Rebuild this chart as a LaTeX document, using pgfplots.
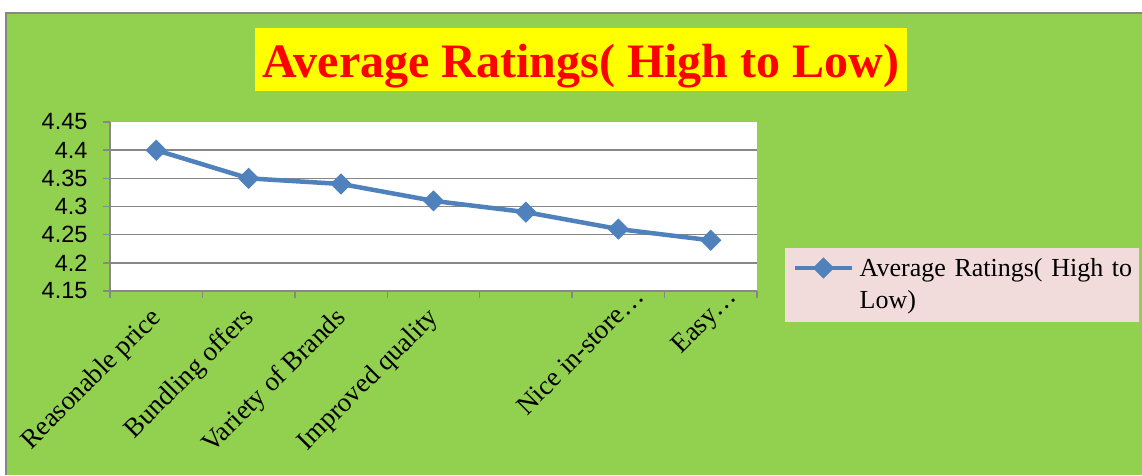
\documentclass[border=0pt]{standalone}
\usepackage{pgfplots}
\pgfplotsset{compat=1.18}
\usepackage{fontspec}
\setmainfont{Liberation Serif}
\newfontfamily\arial{Liberation Sans}
\definecolor{bggreen}{HTML}{92D050}
\definecolor{titleyellow}{HTML}{FFFF00}
\definecolor{legendpink}{HTML}{F2DCDB}
\definecolor{linblue}{HTML}{4F81BD}
\definecolor{axisgray}{HTML}{878787}
\begin{document}
\begin{tikzpicture}
\path[use as bounding box] (0,0) rectangle (1142pt,-475pt);
\fill[white] (0,0) rectangle (1142pt,-475pt);
\fill[bggreen] (6pt,-13pt) rectangle (1142pt,-475pt);
\draw[axisgray, line width=2pt] (6pt,-475pt) -- (6pt,-13pt) -- (1142pt,-13pt);
% title box
\fill[titleyellow] (255pt,-28pt) rectangle (907pt,-91pt);
\node[text=red, anchor=base, inner sep=0pt, font=\fontsize{48}{48}\selectfont\bfseries] at (581pt,-77pt) {Average Ratings( High to Low)};
% legend box
\fill[legendpink] (785pt,-248pt) rectangle (1139pt,-322pt);
\begin{axis}[
  at={(110pt,-291pt)}, anchor=south west,
  scale only axis, width=647pt, height=169pt,
  xmin=-0.5, xmax=6.5, ymin=4.15, ymax=4.45,
  axis x line*=bottom, axis y line*=left,
  axis line style={draw=axisgray, line width=1.5pt, -},
  axis background/.style={fill=white},
  tick align=outside,
  major tick length=7pt, minor tick length=7pt,
  xtick={0,...,6},
  xticklabels={Reasonable price, Bundling offers, Variety of Brands, Improved quality, {}, Nice in-store…\kern-30pt\relax, Easy…\kern-30pt\relax},
  minor xtick={-0.5,0.5,...,6.5},
  major x tick style={draw=none},
  minor x tick style={draw=axisgray, line width=1.5pt},
  xticklabel style={xshift=6pt, yshift=-21pt, rotate=45, anchor=base east, inner sep=0pt, font=\fontsize{27}{27}\selectfont},
  ytick={4.15,4.2,4.25,4.3,4.35,4.4},
  yticklabels={4.15,4.2,4.25,4.3,4.35,4.4},
  extra y ticks={4.45}, extra y tick labels={4.45},
  extra y tick style={grid=none},
  y tick style={draw=axisgray, line width=1.5pt},
  yticklabel style={font=\arial\fontsize{23.5}{23.5}\selectfont, xshift=-12pt},
  ymajorgrids, grid style={draw=axisgray, line width=1.5pt},
  legend style={at={(axis description cs:1.0402,0.2544)}, anchor=north west, fill=none, draw=none,
    font=\fontsize{26}{30}\selectfont, inner xsep=10pt, inner ysep=8pt},
  legend cell align=left,
  legend image code/.code={\draw[#1, mark repeat=2, mark phase=2] plot coordinates {(0pt,0pt) (28pt,0pt) (57pt,0pt)};},
  clip=false,
]
\addplot[linblue, line width=4.5pt, mark=square*, mark size=7pt, mark options={rotate=45, solid, line width=1pt}]
  coordinates {(0,4.40) (1,4.35) (2,4.34) (3,4.31) (4,4.29) (5,4.26) (6,4.24)};
\addlegendentry[align=left, text width=275pt, inner xsep=5pt, font=\fontsize{26}{32}\selectfont]{Average Ratings( High to Low)}
\end{axis}
\end{tikzpicture}
\end{document}
